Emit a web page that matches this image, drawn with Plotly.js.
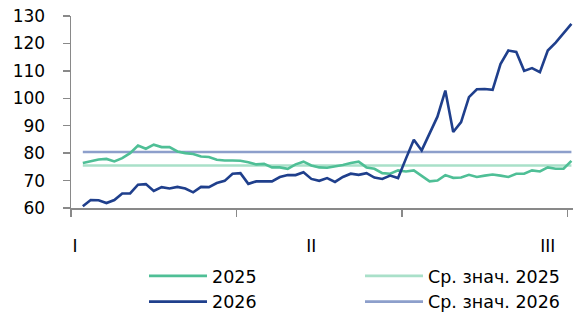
<!DOCTYPE html>
<html>
<head>
<meta charset="utf-8">
<script src="https://cdn.plot.ly/plotly-3.0.1.min.js"></script>
<style>html,body{margin:0;padding:0;background:#fff;}#chart{width:573px;height:318px;}</style>
</head>
<body>
<div id="chart"></div>
<script>
// Observation index (trading days)
var days = [0,1,2,3,4,5,6,7,8,9,10,11,12,13,14,15,16,17,18,19,20,21,22,23,24,25,26,27,28,29,30,31,32,33,34,35,36,37,38,39,40,41,42,43,44,45,46,47,48,49,50,51,52,53,54,55,56,57,58,59,60,61,62];

var series2025 = [76.4,77.0,77.7,77.9,77.0,78.2,80.0,82.8,81.6,83.1,82.2,82.2,80.6,80.0,79.7,78.8,78.6,77.6,77.3,77.3,
  77.2,76.7,75.9,76.1,74.8,74.8,74.3,75.9,76.9,75.5,74.8,74.7,75.1,75.7,76.4,76.9,74.8,74.3,72.7,72.5,
  73.7,73.3,73.7,71.8,69.7,70.0,72.0,71.0,71.1,72.1,71.3,71.8,72.2,71.8,71.3,72.5,72.5,73.7,73.3,74.8,
  74.3,74.3,77.2];

var series2026 = [60.6,62.9,62.8,61.8,62.9,65.3,65.3,68.5,68.7,66.2,67.6,67.1,67.7,67.1,65.7,67.7,67.6,69.1,69.9,72.5,
  72.7,68.8,69.7,69.7,69.7,71.3,72.0,72.0,73.0,70.6,69.9,70.9,69.5,71.3,72.5,72.1,72.7,71.1,70.6,71.8,
  70.9,78.0,84.9,81.0,87.0,93.3,102.8,87.7,91.3,100.4,103.3,103.4,103.1,112.5,117.4,116.9,110.0,111.0,109.5,117.4,
  120.3,123.5,127.1];

var mean2025 = 75.5;
var mean2026 = 80.4;

var monthLabelPos = [-1, 29, 59];
var monthLabels = ['I', 'II', 'III'];
var seriesNames = ['2025', 'Ср. знач. 2025', '2026', 'Ср. знач. 2026'];

var meanLine2025 = days.map(function(){ return mean2025; });
var meanLine2026 = days.map(function(){ return mean2026; });

var FONT = 'DejaVu Sans, Liberation Sans, sans-serif';

// means drawn first (behind the main lines)
var traces = [
  {x: days, y: meanLine2025, name: seriesNames[1], type: 'scatter', mode: 'lines',
   line: {color: '#A9E0C9', width: 2.6}, legend: 'legend2', legendrank: 1},
  {x: days, y: meanLine2026, name: seriesNames[3], type: 'scatter', mode: 'lines',
   line: {color: '#8D9FCB', width: 2.6}, legend: 'legend2', legendrank: 2},
  {x: days, y: series2025, name: seriesNames[0], type: 'scatter', mode: 'lines',
   line: {color: '#4FBF96', width: 2.6}, legend: 'legend', legendrank: 1},
  {x: days, y: series2026, name: seriesNames[2], type: 'scatter', mode: 'lines',
   line: {color: '#1F3F8C', width: 2.6}, legend: 'legend', legendrank: 2}
];

function legendCfg(xpx) {
  return {
    orientation: 'v', xref: 'container', yref: 'container',
    x: xpx / 573, y: 1 - 258 / 318, xanchor: 'left', yanchor: 'top',
    itemwidth: 58, traceorder: 'normal', tracegroupgap: 0,
    font: {family: FONT, size: 17.5, color: '#000'},
    bgcolor: 'rgba(0,0,0,0)', borderwidth: 0
  };
}

var layout = {
  width: 573, height: 318,
  margin: {l: 71, r: 0, t: 16, b: 110, pad: 0, autoexpand: false},
  paper_bgcolor: '#ffffff', plot_bgcolor: '#ffffff',
  font: {family: FONT, size: 17, color: '#000000'},
  showlegend: true,
  legend: legendCfg(144),
  legend2: legendCfg(360),
  xaxis: {
    range: [-1.5, 62.2], showgrid: false, zeroline: false,
    showline: true, linecolor: '#898989', linewidth: 1.5,
    tickmode: 'array', tickvals: monthLabelPos, ticktext: monthLabels,
    ticks: '', ticklabelstandoff: 22,
    tickfont: {family: FONT, size: 17, color: '#000'},
    minor: {tickmode: 'linear', tick0: -1.5, dtick: 21, ticks: 'outside', ticklen: 7, tickwidth: 1.5, tickcolor: '#898989', showgrid: false}
  },
  yaxis: {
    range: [60, 130], tickmode: 'array', tickvals: [60,70,80,90,100,110,120,130],
    showgrid: false, zeroline: false,
    showline: true, linecolor: '#898989', linewidth: 1.5,
    ticks: 'outside', ticklen: 7, tickwidth: 1.5, tickcolor: '#898989',
    ticklabelstandoff: 14,
    tickfont: {family: FONT, size: 17, color: '#000'}
  },
  hovermode: false
};

Plotly.newPlot('chart', traces, layout, {displayModeBar: false, staticPlot: true});
</script>
</body>
</html>
